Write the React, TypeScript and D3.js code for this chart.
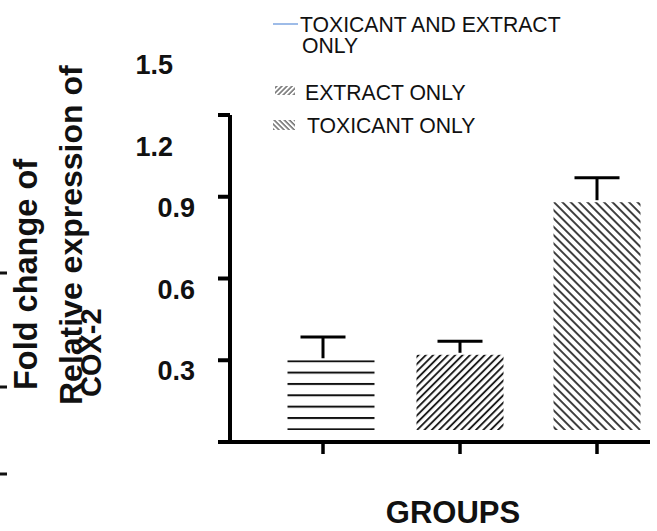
import * as d3 from "d3";
import React from 'react'

const groups = ["TOXICANT AND EXTRACT ONLY", "EXTRACT ONLY", "TOXICANT ONLY"]
const means = [0.30, 0.32, 0.88]
const errors = [0.085, 0.05, 0.09]
const patterns = ["hlines", "fwd", "back"]
const axisTicks = [0, 0.3, 0.6, 0.9, 1.2]
const lowLabels = ["0.3", "0.6", "0.9"]
const highLabels = ["1.2", "1.5"]
const legendItems = ["EXTRACT ONLY", "TOXICANT ONLY"]

const W = 657, H = 531
const font = "'Liberation Sans', Arial, sans-serif"

const App: React.FC = () => {
  const x = d3.scalePoint(groups, [323, 597])
  const y = d3.scaleLinear([0, 1.2], [442, 115])
  const barW = 87
  const lift = 12 // the bars stop short of the axis in the original
  const capW = 45

  return (
    <svg width={W} height={H} style={{ position: "absolute", left: 0, top: 0, background: "white" }} fontFamily={font}>
      <defs>
        <pattern id="hlines" patternUnits="userSpaceOnUse" width={10} height={11.35}
          patternTransform={`translate(0, ${y(means[0])})`}>
          <line x1={0} x2={10} y1={1} y2={1} stroke="#111" strokeWidth={2} />
        </pattern>
        <pattern id="fwd" patternUnits="userSpaceOnUse" width={5.2} height={10} patternTransform="rotate(45)">
          <line x1={1} x2={1} y1={0} y2={10} stroke="#111" strokeWidth={1.8} />
        </pattern>
        <pattern id="back" patternUnits="userSpaceOnUse" width={5.9} height={10} patternTransform="rotate(-45)">
          <line x1={1} x2={1} y1={0} y2={10} stroke="#111" strokeWidth={1.6} />
        </pattern>
        <pattern id="fwdS" patternUnits="userSpaceOnUse" width={3.6} height={10} patternTransform="rotate(45)">
          <line x1={1} x2={1} y1={0} y2={10} stroke="#333" strokeWidth={1.1} />
        </pattern>
        <pattern id="backS" patternUnits="userSpaceOnUse" width={3.6} height={10} patternTransform="rotate(-45)">
          <line x1={1} x2={1} y1={0} y2={10} stroke="#333" strokeWidth={1.1} />
        </pattern>
      </defs>

      {/* stray marks at the left edge */}
      {[273, 387, 474].map((py, i) => <rect key={i} x={0} y={py - 1.5} width={7} height={3} fill="#111" />)}

      {/* y titles */}
      <text transform="translate(37, 390) rotate(-90)" fontSize={32.5} fontWeight="bold" fill="#111">Fold change of</text>
      <text transform="translate(82, 405) rotate(-90)" fontSize={32} fontWeight="bold" fill="#111">Relative expression of</text>
      <text transform="translate(101, 397) rotate(-90)" fontSize={29} fontWeight="bold" fill="#111">COX-2</text>

      {/* y tick labels (offset from ticks as in the source) */}
      {lowLabels.map(l => (
        <text key={l} x={195} y={y(+l) + 11} textAnchor="end" dominantBaseline="central"
          fontSize={27} fontWeight="bold" fill="#111">{l}</text>
      ))}
      {highLabels.map(l => (
        <text key={l} x={173} y={y(+l) + 32} textAnchor="end" dominantBaseline="central"
          fontSize={27} fontWeight="bold" fill="#111">{l}</text>
      ))}

      {/* axes */}
      <line x1={230} x2={230} y1={y(1.2)} y2={y(0) + 2} stroke="#000" strokeWidth={4} />
      {axisTicks.map(t => (
        <line key={t} x1={218} x2={230} y1={y(t)} y2={y(t)} stroke="#000" strokeWidth={4} />
      ))}
      <line x1={228} x2={650} y1={y(0)} y2={y(0)} stroke="#000" strokeWidth={4} />
      {groups.map(g => (
        <line key={g} x1={x(g)!} x2={x(g)!} y1={y(0)} y2={y(0) + 12} stroke="#000" strokeWidth={3.5} />
      ))}

      {/* bars */}
      {groups.map((g, i) => (
        <rect key={g} x={x(g)! - barW / 2 + (i === 0 ? 8 : 0)} y={y(means[i])} width={barW}
          height={y(0) - lift - y(means[i])} fill={`url(#${patterns[i]})`} />
      ))}

      {/* error bars */}
      {groups.map((g, i) => (
        <g key={g} stroke="#000" strokeWidth={3}>
          <line x1={x(g)!} x2={x(g)!} y1={y(means[i] + errors[i])} y2={y(means[i]) - 2} />
          <line x1={x(g)! - capW / 2} x2={x(g)! + capW / 2} y1={y(means[i] + errors[i])} y2={y(means[i] + errors[i])} />
        </g>
      ))}

      {/* legend */}
      <line x1={273} x2={298} y1={24} y2={24} stroke="#7ea6e0" strokeWidth={1.5} />
      <text x={300} y={32} fontSize={21.2} fill="#111">TOXICANT AND EXTRACT</text>
      <text x={302} y={53} fontSize={21.2} fill="#111">ONLY</text>
      <rect x={275} y={86} width={20} height={9} fill="url(#fwdS)" />
      <rect x={273} y={120} width={22} height={10} fill="url(#backS)" />
      <text x={305} y={100} fontSize={21.2} fill="#111">{legendItems[0]}</text>
      <text x={307} y={133} fontSize={21.2} fill="#111">{legendItems[1]}</text>

      <text x={453} y={523} textAnchor="middle" fontSize={31} fontWeight="bold" fill="#111">GROUPS</text>
    </svg>
  )
}

export default App
